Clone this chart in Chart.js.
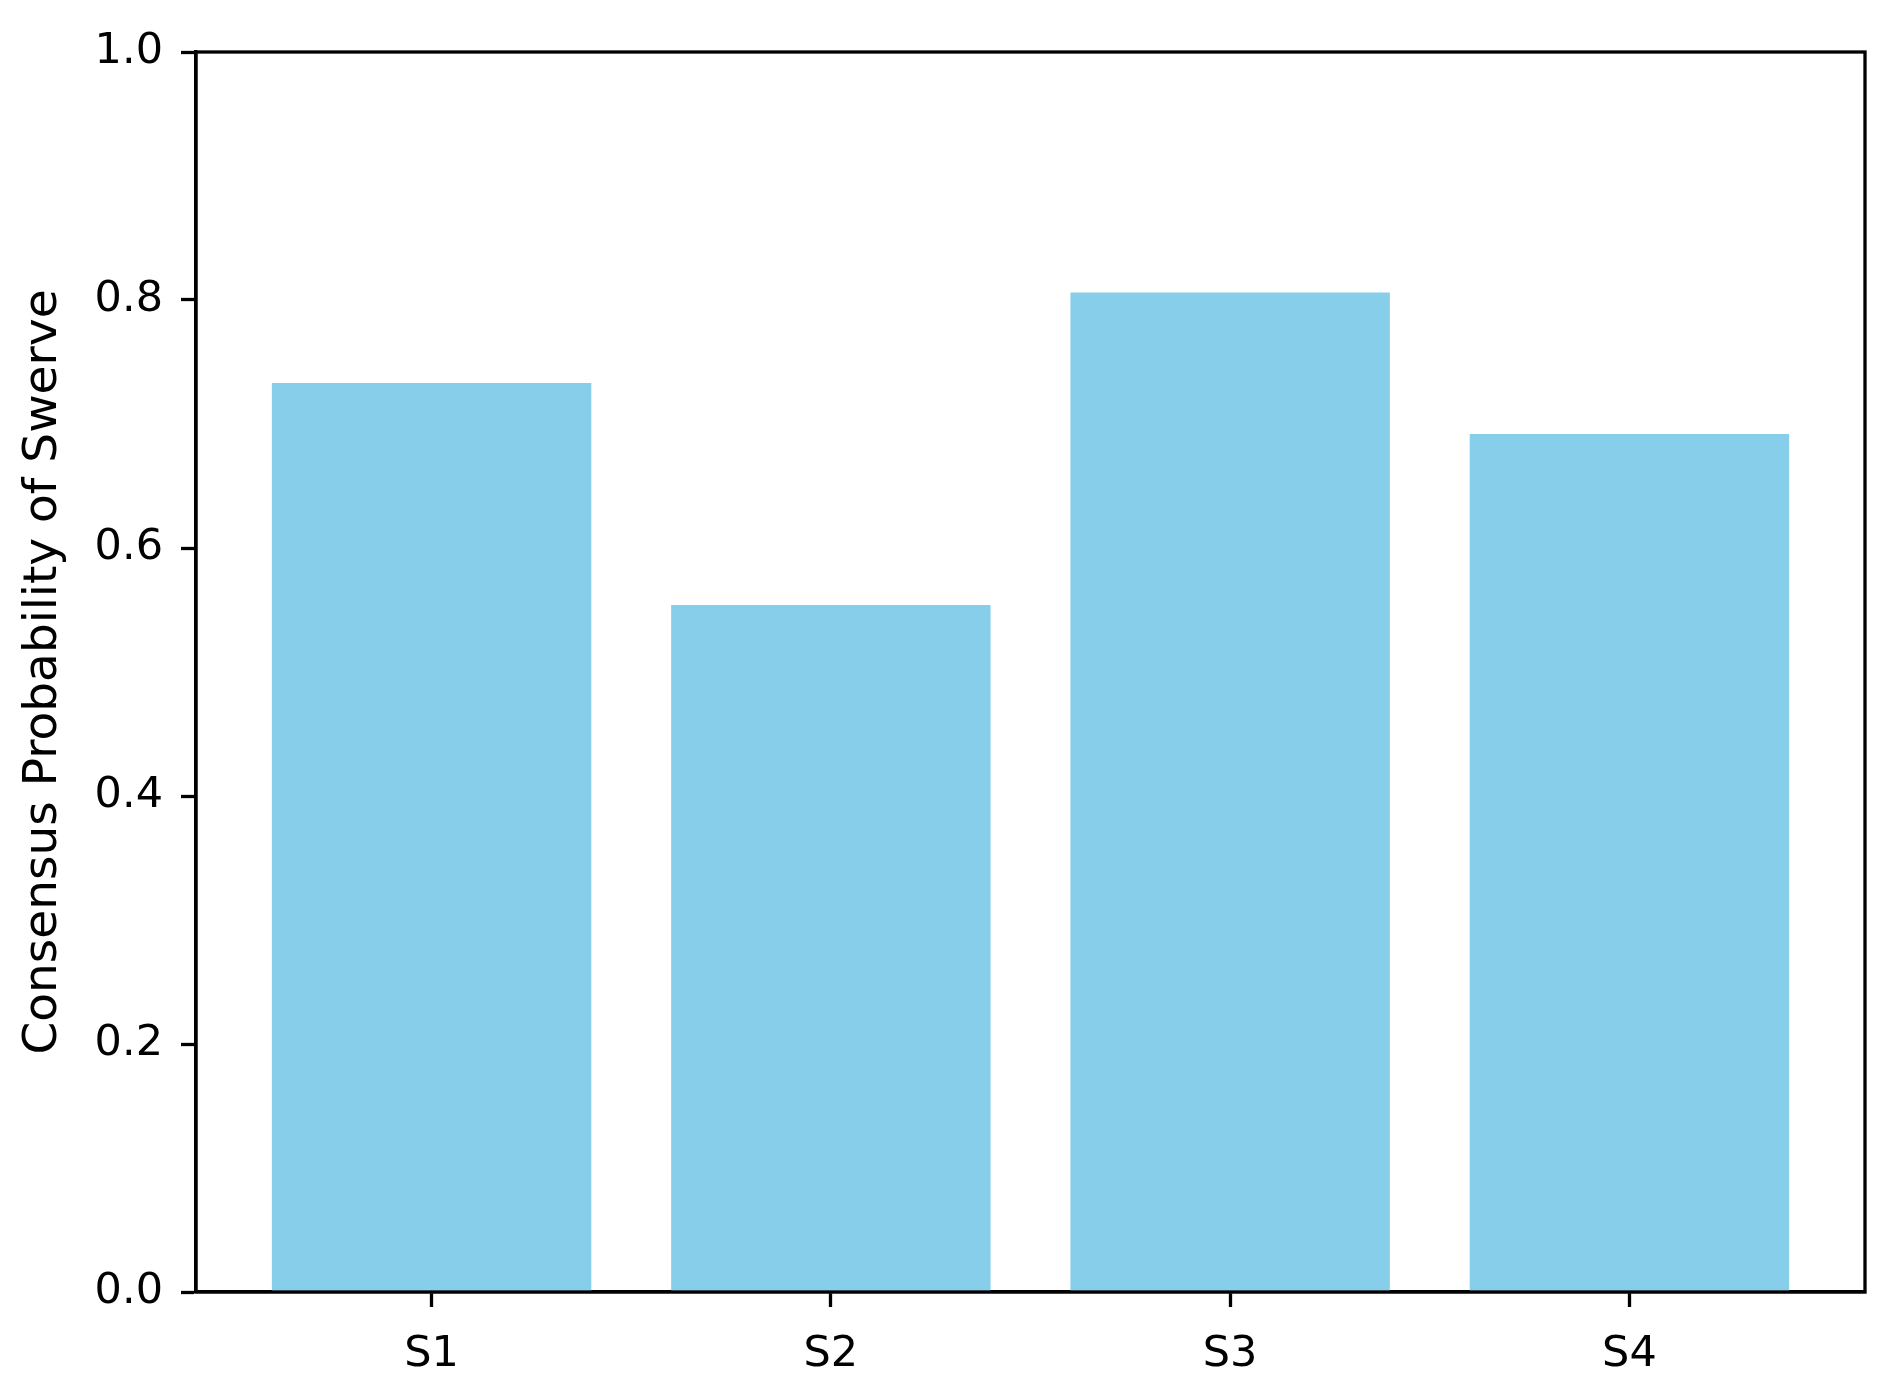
<!DOCTYPE html>
<html>
<head>
<meta charset="utf-8">
<script src="https://cdn.jsdelivr.net/npm/chart.js@4"></script>
<style>
  html, body { margin: 0; padding: 0; background: #fff; }
  #wrap { width: 1888px; height: 1382px; }
</style>
</head>
<body>
<div id="wrap"><canvas id="swerveChart" width="1888" height="1382"></canvas></div>
<script>
const scenarios = ['S1', 'S2', 'S3', 'S4'];
const swerveProb = [0.733, 0.554, 0.806, 0.692];
const yTicks = [0.0, 0.2, 0.4, 0.6, 0.8, 1.0];

const tickFont = { family: 'DejaVu Sans', size: 43 };
const titleFont = { family: 'DejaVu Sans', size: 47 };
const lineW = 3.3;

// matplotlib-style box round the axes
const frame = {
  id: 'frame',
  afterDatasetsDraw(chart) {
    const a = chart.chartArea;
    const ctx = chart.ctx;
    ctx.save();
    ctx.strokeStyle = '#000';
    ctx.lineWidth = lineW;
    ctx.strokeRect(a.left, a.top, a.right - a.left, a.bottom - a.top);
    ctx.restore();
  }
};

const ctx = document.getElementById('swerveChart').getContext('2d');
new Chart(ctx, {
  type: 'bar',
  data: {
    datasets: [{
      data: swerveProb.map((v, i) => ({ x: i, y: v })),
      backgroundColor: '#87CEEB',
      borderWidth: 0,
      categoryPercentage: 1,
      barPercentage: 0.8
    }]
  },
  options: {
    responsive: false,
    animation: false,
    layout: { padding: { left: 0, top: 52, right: 23, bottom: 0 } },
    plugins: { legend: { display: false }, tooltip: { enabled: false } },
    scales: {
      x: {
        type: 'linear',
        min: -0.59,
        max: 3.59,
        offset: false,
        afterBuildTicks(scale) {
          scale.ticks = scenarios.map((c, i) => ({ value: i }));
        },
        afterFit(scale) { scale.height = 90; },
        grid: { offset: false, drawOnChartArea: false, drawTicks: true, tickLength: 15, tickWidth: lineW, tickColor: '#000' },
        border: { display: true, color: '#000', width: lineW },
        ticks: {
          font: tickFont,
          color: '#000',
          padding: 22,
          maxRotation: 0,
          autoSkip: false,
          callback: (v) => scenarios[v]
        }
      },
      y: {
        min: 0,
        max: 1,
        afterBuildTicks(scale) {
          scale.ticks = yTicks.map(v => ({ value: v }));
        },
        afterFit(scale) { scale.width = 196; },
        grid: { drawOnChartArea: false, drawTicks: true, tickLength: 15, tickWidth: lineW, tickColor: '#000' },
        border: { display: true, color: '#000', width: lineW },
        ticks: {
          font: tickFont,
          color: '#000',
          padding: 18,
          callback: (v) => v.toFixed(1)
        },
        title: {
          display: true,
          text: 'Consensus Probability of Swerve',
          font: titleFont,
          color: '#000',
          padding: { top: 16, bottom: 0 }
        }
      }
    }
  },
  plugins: [frame]
});
</script>
</body>
</html>
